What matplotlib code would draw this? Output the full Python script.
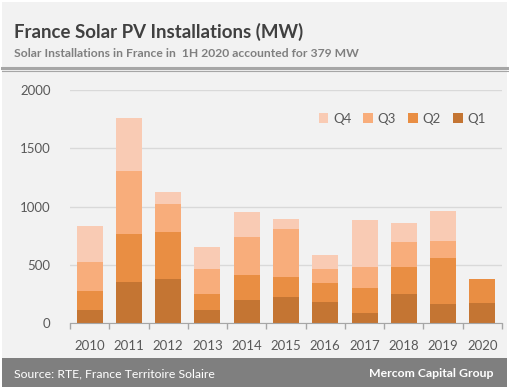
import numpy as np
import matplotlib.pyplot as plt
from matplotlib.patches import Rectangle
from matplotlib.lines import Line2D

# Quarterly solar PV installations in France (MW)
years = ['2010', '2011', '2012', '2013', '2014', '2015', '2016', '2017', '2018', '2019', '2020']
q1 = [114, 354, 380, 114, 200, 226, 183, 89, 251, 166, 174]
q2 = [163, 412, 403, 137, 214, 171, 163, 214, 232, 394, 205]
q3 = [249, 540, 240, 215, 326, 412, 120, 180, 214, 146, 0]
q4 = [308, 454, 103, 188, 214, 85, 120, 403, 163, 257, 0]

colors = {'Q1': '#c47533', 'Q2': '#e98e43', 'Q3': '#f8ad7b', 'Q4': '#f9cbb4'}

plt.rcParams['font.family'] = ['Lato', 'DejaVu Sans']

fig = plt.figure(figsize=(5.1, 3.9), dpi=100)
fig.patch.set_facecolor('white')

# light gray card with white margin
fig.patches.append(Rectangle((2/510, 3/390), 505/510, 385/390, transform=fig.transFigure,
                             facecolor='#f2f2f2', edgecolor='none', zorder=0))
# footer band
fig.patches.append(Rectangle((2/510, 3/390), 505/510, 29/390, transform=fig.transFigure,
                             facecolor='#7f7f7f', edgecolor='none', zorder=1))
# double rule under the header
fig.lines.append(Line2D([2/510, 1], [1 - 68/390] * 2, transform=fig.transFigure,
                        color='#a6a6a6', lw=2.2))
fig.lines.append(Line2D([2/510, 1], [1 - 70.8/390] * 2, transform=fig.transFigure,
                        color='#a6a6a6', lw=0.8))

fig.text(14/510, 1 - 38/390, 'France Solar PV Installations (MW)', fontsize=13.4,
         fontweight='bold', color='#404040', va='baseline')
fig.text(14/510, 1 - 57/390, 'Solar Installations in France in  1H 2020 accounted for 379 MW',
         fontsize=8.7, fontweight='bold', color='#7f7f7f', va='baseline')
fig.text(14/510, 1 - 377/390, 'Source: RTE, France Territoire Solaire', fontsize=8.8,
         color='white', va='baseline')
fig.text(494/510, 1 - 377/390, 'Mercom Capital Group', fontsize=8.8, fontweight='bold',
         color='white', va='baseline', ha='right')

ax = fig.add_axes([70/510, 1 - 323.3/390, 432/510, 233.3/390])
ax.set_facecolor('none')
ax.set_zorder(5)

x = np.arange(len(years))
w = 0.66
b1 = np.array(q1)
b2 = b1 + np.array(q2)
b3 = b2 + np.array(q3)
ax.bar(x, q1, w, color=colors['Q1'], label='Q1', zorder=3)
ax.bar(x, q2, w, bottom=b1, color=colors['Q2'], label='Q2', zorder=3)
ax.bar(x, q3, w, bottom=b2, color=colors['Q3'], label='Q3', zorder=3)
ax.bar(x, q4, w, bottom=b3, color=colors['Q4'], label='Q4', zorder=3)

ax.set_xlim(-0.5, len(years) - 0.5)
ax.set_ylim(0, 2000)
ax.set_yticks([0, 500, 1000, 1500, 2000])
ax.yaxis.grid(True, color='#d9d9d9', lw=1, zorder=0)
ax.tick_params(axis='y', length=0, pad=14, labelsize=9.5, labelcolor='#595959')

ax.set_xticks(x)
ax.set_xticklabels(years)
ax.set_xticks(np.arange(-0.5, len(years)), minor=True)
ax.tick_params(axis='x', which='major', length=0, pad=12, labelsize=9.5, labelcolor='#595959')
ax.tick_params(axis='x', which='minor', length=4, color='#a6a6a6', width=1)

for s in ['top', 'right', 'left']:
    ax.spines[s].set_visible(False)
ax.spines['bottom'].set_color('#a6a6a6')
ax.spines['bottom'].set_zorder(4)

h, l = ax.get_legend_handles_labels()
leg = ax.legend(h[::-1], l[::-1], ncol=4, loc='center right', bbox_to_anchor=(0.962, 0.877),
                borderaxespad=0, borderpad=0, frameon=False, fontsize=9.5,
                handlelength=0.75, handleheight=0.75, handletextpad=0.35,
                columnspacing=0.9, labelcolor='#595959')

fig.savefig('out.png', dpi=100)
